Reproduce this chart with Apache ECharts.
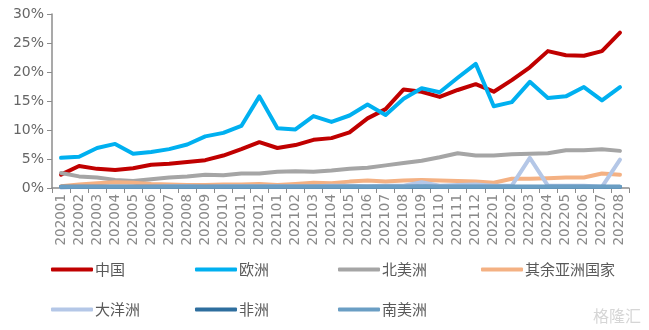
<!DOCTYPE html>
<html><head><meta charset="utf-8">
<script src="https://cdn.jsdelivr.net/npm/echarts@6/dist/echarts.min.js"></script>
<style>html,body{margin:0;padding:0;background:#fff}#c{width:649px;height:330px}</style>
</head><body><div id="c"></div>
<script>
const categories = ['202001','202002','202003','202004','202005','202006','202007','202008','202009','202010','202011','202012',
'202101','202102','202103','202104','202105','202106','202107','202108','202109','202110','202111','202112',
'202201','202202','202203','202204','202205','202206','202207','202208'];
const yTicks = [0,5,10,15,20,25,30];
const china = [2.3,3.8,3.3,3.1,3.4,4.0,4.2,4.5,4.8,5.6,6.7,7.9,6.9,7.4,8.3,8.6,9.6,12.0,13.6,17.0,16.6,15.7,16.9,17.9,16.6,18.6,20.8,23.6,22.9,22.8,23.6,26.8];
const europe = [5.2,5.4,6.9,7.6,5.9,6.2,6.7,7.5,8.9,9.5,10.7,15.8,10.3,10.1,12.4,11.4,12.5,14.4,12.6,15.4,17.2,16.5,19.0,21.4,14.1,14.8,18.3,15.5,15.8,17.4,15.1,17.4];
const northAmerica = [2.6,2.0,1.8,1.4,1.2,1.5,1.8,2.0,2.3,2.2,2.5,2.5,2.8,2.9,2.8,3.0,3.3,3.5,3.9,4.3,4.7,5.3,6.0,5.6,5.6,5.8,5.9,6.0,6.5,6.5,6.7,6.4];
const otherAsia = [0.3,0.6,0.8,1.0,0.9,0.7,0.6,0.5,0.5,0.6,0.6,0.7,0.5,0.7,0.9,0.8,1.1,1.3,1.1,1.3,1.4,1.3,1.2,1.1,0.9,1.6,1.6,1.7,1.8,1.8,2.5,2.3];
const oceania = [0.1,0.2,0.2,0.2,0.2,0.2,0.3,0.3,0.2,0.3,0.3,0.3,0.3,0.3,0.3,0.4,0.4,0.3,0.4,0.4,1.0,0.4,0.5,0.6,0.4,0.4,5.2,0.4,0.4,0.4,0.2,4.9];
const africa = [0.2,0.2,0.2,0.2,0.2,0.2,0.2,0.2,0.2,0.2,0.2,0.2,0.2,0.2,0.2,0.2,0.2,0.2,0.2,0.2,0.2,0.2,0.2,0.2,0.2,0.2,0.2,0.2,0.2,0.2,0.2,0.2];
const southAmerica = [0.2,0.2,0.2,0.2,0.2,0.2,0.2,0.2,0.2,0.2,0.2,0.2,0.2,0.2,0.2,0.2,0.2,0.2,0.2,0.2,0.3,0.2,0.2,0.2,0.2,0.2,0.2,0.2,0.2,0.2,0.2,0.2];

const seriesDefs = [
  {name:'中国', data:china, color:'#C00000'},
  {name:'欧洲', data:europe, color:'#00B0F0'},
  {name:'北美洲', data:northAmerica, color:'#A5A5A5'},
  {name:'其余亚洲国家', data:otherAsia, color:'#F4B183'},
  {name:'大洋洲', data:oceania, color:'#B4C7E7'},
  {name:'非洲', data:africa, color:'#2E6E9E'},
  {name:'南美洲', data:southAmerica, color:'#6A9EC4'}
];
const legendPos = [[46,257],[190,257],[333,257],[476,257],[46,297],[190,297],[333,297]];
const chart = echarts.init(document.getElementById('c'));
chart.setOption({
  animation:false,
  textStyle:{fontFamily:'"Noto Sans CJK SC", "DejaVu Sans", sans-serif'},
  grid:{left:52,right:20,top:14,bottom:142},
  legend: seriesDefs.map((s,i)=>({
    data:[s.name], left:legendPos[i][0], top:legendPos[i][1], itemWidth:42, itemHeight:4, itemGap:2,
    icon:'roundRect', textStyle:{fontSize:15,color:'#595959',padding:[0,0,0,-3]}
  })),
  xAxis:{type:'category', data:categories, boundaryGap:true,
    axisLine:{lineStyle:{color:'#8C8C8C',width:1.5}},
    axisTick:{show:true, alignWithLabel:false, length:5, lineStyle:{color:'#8C8C8C'}},
    axisLabel:{rotate:90, interval:0, fontSize:13.5, color:'#8A8A8A', margin:6, fontFamily:'"DejaVu Sans", sans-serif'}
  },
  yAxis:{type:'value', min:yTicks[0], max:yTicks[yTicks.length-1], interval:5,
    axisLine:{show:true, lineStyle:{color:'#8C8C8C',width:1.5}},
    axisTick:{show:true, inside:false, length:5, lineStyle:{color:'#8C8C8C'}},
    splitLine:{show:false},
    axisLabel:{formatter:v=>v+'%', fontSize:14, color:'#666666', margin:8, fontFamily:'"DejaVu Sans", sans-serif'}
  },
  series: seriesDefs.map(s=>({
    name:s.name, type:'line', data:s.data, showSymbol:false, symbol:'none',
    lineStyle:{width:4, color:s.color, join:'round', cap:'round'}, itemStyle:{color:s.color}
  })),
  graphic:[{type:'text', right:8, bottom:6, style:{text:'格隆汇', fontSize:16, fill:'#d6d6d6', fontFamily:'"Noto Sans CJK SC", sans-serif'}}]
});
</script></body></html>
